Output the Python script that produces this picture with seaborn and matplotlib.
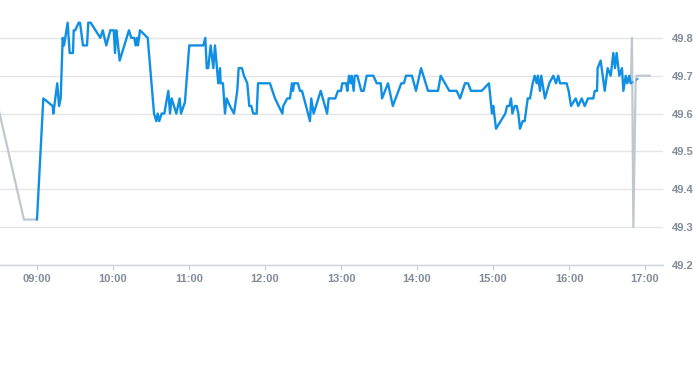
import numpy as np
import pandas as pd
import matplotlib
matplotlib.use("Agg")
import matplotlib.pyplot as plt
import seaborn as sns

# --- data (time in minutes since midnight, price) ---
main_minutes = [540, 545, 552.4, 552.9, 556, 557.4, 558.7, 560.3, 561.3, 562.3, 564.2, 565.8, 568.4, 569,
                570.2, 572.9, 574, 576.3, 579.5, 580.5, 582.4, 590, 591.9, 594.7, 597.9, 600.6, 601.6, 602.6,
                603.4, 605.3, 612.6, 614.4, 616.8, 617.9, 619, 619.7, 621.3, 627.4, 632.4, 634.2, 635.3, 636.5,
                638.4, 640.5, 643.7, 645, 646.3, 650, 652.6, 653.7, 656.8, 660.2, 671.3, 672.9, 674, 675.2,
                677.1, 679.2, 680.5, 683.1, 684.5, 685, 686.8, 688.4, 689.7, 692.3, 695.5, 698.1, 699.2, 701.8,
                703.4, 706, 707.6, 709.2, 710.7, 713.4, 714.5, 723.9, 727.9, 733.7, 734.4, 737.6, 739.7, 741.3,
                742.1, 742.9, 746, 747.6, 749.2, 752.4, 755.5, 756.5, 758.4, 764, 769, 770.3, 775.5, 777.6,
                780, 781, 784, 785, 786.3, 787.7, 788.4, 790, 790.8, 792.9, 796, 797.9, 800.3, 805.5, 808.2,
                811.4, 812.4, 817.1, 820.9, 827.6, 829.7, 831.3, 836, 839.2, 843.2, 848.7, 856.6, 858.7, 865.5,
                871.3, 874, 877.9, 880.3, 882.6, 891.1, 896.8, 899.2, 900.2, 902.4, 909.7, 911.1, 912.9, 914.2,
                915.3, 917.1, 918.7, 920, 921.3, 923.4, 925, 927.4, 929.2, 931.3, 932.9, 934.5, 935.5, 937.1,
                938.1, 941, 944.4, 947.6, 949.7, 951.5, 952.9, 958.1, 959.7, 961.6, 965.3, 967.3, 970, 972.4,
                975, 979.2, 980.3, 982.1, 982.6, 985, 988.2, 990.5, 992.9, 995, 996.3, 997.6, 999.7, 1001.8,
                1002.9, 1004.8, 1006, 1007.6, 1008.7]
main_price = [49.32, 49.64, 49.62, 49.60, 49.68, 49.62, 49.64, 49.80, 49.78, 49.80, 49.84, 49.76, 49.76, 49.82,
              49.82, 49.84, 49.84, 49.78, 49.78, 49.84, 49.84, 49.80, 49.82, 49.78, 49.82, 49.82, 49.76, 49.82,
              49.80, 49.74, 49.82, 49.80, 49.80, 49.78, 49.80, 49.78, 49.82, 49.80, 49.60, 49.58, 49.60, 49.58,
              49.60, 49.60, 49.66, 49.60, 49.64, 49.60, 49.64, 49.60, 49.63, 49.78, 49.78, 49.80, 49.72, 49.72,
              49.78, 49.72, 49.78, 49.68, 49.72, 49.68, 49.68, 49.60, 49.64, 49.62, 49.60, 49.66, 49.72, 49.72,
              49.70, 49.68, 49.62, 49.62, 49.60, 49.60, 49.68, 49.68, 49.64, 49.60, 49.62, 49.64, 49.64, 49.68,
              49.66, 49.68, 49.68, 49.66, 49.66, 49.62, 49.58, 49.64, 49.60, 49.66, 49.60, 49.64, 49.64, 49.66,
              49.66, 49.68, 49.68, 49.66, 49.70, 49.68, 49.70, 49.66, 49.70, 49.70, 49.66, 49.66, 49.70, 49.70, 49.68,
              49.68, 49.64, 49.68, 49.62, 49.68, 49.68, 49.70, 49.70, 49.66, 49.72, 49.66, 49.66, 49.70, 49.66,
              49.66, 49.64, 49.68, 49.68, 49.66, 49.66, 49.68, 49.60, 49.62, 49.56, 49.60, 49.62, 49.62, 49.64,
              49.60, 49.62, 49.62, 49.60, 49.56, 49.58, 49.58, 49.64, 49.64, 49.68, 49.70, 49.68, 49.70, 49.66,
              49.70, 49.64, 49.68, 49.70, 49.68, 49.70, 49.68, 49.68, 49.66, 49.62, 49.64, 49.62, 49.64, 49.62,
              49.64, 49.64, 49.66, 49.66, 49.72, 49.74, 49.66, 49.72, 49.70, 49.76, 49.72, 49.76, 49.70, 49.72,
              49.66, 49.70, 49.68, 49.70, 49.68]

pre_minutes = [505.0, 529.7, 540]
pre_price = [49.68, 49.32, 49.32]

post_minutes = [1008.7, 1009.7, 1010.8, 1012.6, 1013.4, 1023.9]
post_price = [49.68, 49.80, 49.30, 49.68, 49.70, 49.70]

tail_minutes = [1008.7, 1016.0]
tail_price = [49.68, 49.695]

tick_minutes = [540, 600, 660, 720, 780, 840, 900, 960, 1020]
tick_labels = ["09:00", "10:00", "11:00", "12:00", "13:00", "14:00", "15:00", "16:00", "17:00"]
y_ticks = [49.2, 49.3, 49.4, 49.5, 49.6, 49.7, 49.8]
y_labels = ["49.2", "49.3", "49.4", "49.5", "49.6", "49.7", "49.8"]

sns.set_theme(style="white")
plt.rcParams["font.family"] = ["Liberation Sans", "DejaVu Sans"]

BLUE = "#1190e3"
GRAY = "#bfc8d0"
TXT = "#808c99"

fig = plt.figure(figsize=(6.93, 3.65), dpi=100)
ax = fig.add_axes([0.0, 1 - 265 / 365, 663 / 693, 265 / 365])

main_df = pd.DataFrame({"t": main_minutes, "p": main_price})
pre_df = pd.DataFrame({"t": pre_minutes, "p": pre_price})
post_df = pd.DataFrame({"t": post_minutes, "p": post_price})
tail_df = pd.DataFrame({"t": tail_minutes, "p": tail_price})

sns.lineplot(data=pre_df, x="t", y="p", ax=ax, color=GRAY, linewidth=1.6, sort=False, estimator=None)
sns.lineplot(data=post_df, x="t", y="p", ax=ax, color=GRAY, linewidth=1.6, sort=False, estimator=None)
sns.lineplot(data=main_df, x="t", y="p", ax=ax, color=BLUE, linewidth=1.7, sort=False, estimator=None)
sns.lineplot(data=tail_df, x="t", y="p", ax=ax, color=BLUE, linewidth=1.2, sort=False, estimator=None,
             linestyle=(0, (2, 1.5)), alpha=0.8)

ax.set_xlim(510.8, 1034.2)
ax.set_ylim(49.2, 49.9)
ax.set_xlabel("")
ax.set_ylabel("")

ax.set_xticks(tick_minutes)
ax.set_xticklabels(tick_labels)
ax.set_yticks(y_ticks)
ax.set_yticklabels(y_labels)
ax.yaxis.tick_right()

ax.grid(axis="y", color="#e3e5e8", linewidth=1)
ax.grid(axis="x", visible=False)
for s in ["top", "left", "right"]:
    ax.spines[s].set_visible(False)
ax.spines["bottom"].set_color("#ccd3da")
ax.spines["bottom"].set_linewidth(1)

ax.tick_params(axis="x", which="major", length=3.5, width=1, color="#ccd3da",
               labelsize=8, labelcolor=TXT, pad=3.3, bottom=True)
ax.tick_params(axis="y", which="major", length=0, labelsize=8, labelcolor=TXT, pad=6.5, right=False)
for lab in ax.get_xticklabels() + ax.get_yticklabels():
    lab.set_fontweight("bold")

fig.savefig("out.png", dpi=100)
